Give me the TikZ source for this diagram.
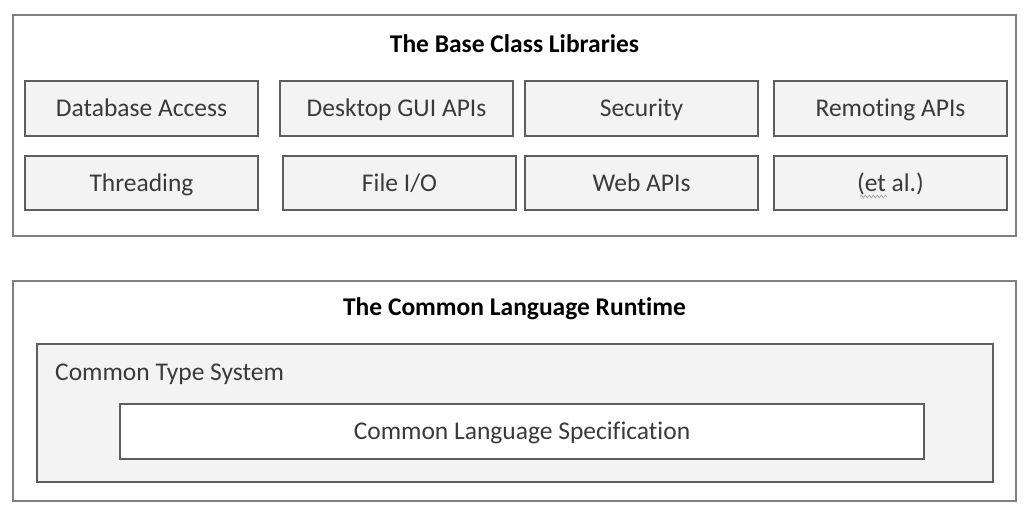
\documentclass[tikz,border=0pt]{standalone}
\usepackage{fontspec}
\setmainfont[Ligatures=NoCommon]{Carlito}
\usetikzlibrary{decorations.pathmorphing}
\definecolor{boxfill}{HTML}{F3F3F3}
\definecolor{boxline}{HTML}{5E5E5E}
\definecolor{outerline}{HTML}{808080}
\definecolor{txt}{HTML}{3A3A3A}
\begin{document}
\begin{tikzpicture}[x=1pt,y=-1pt,
  lib/.style={draw=boxline, line width=1.3pt, fill=boxfill, minimum width=233pt, minimum height=55pt, inner sep=0pt, text=txt, font=\fontsize{25.5}{30}\selectfont, text height=16pt, text depth=0pt},
  outer/.style={draw=outerline, line width=1.3pt, fill=white, inner sep=0pt},
  title/.style={font=\fontsize{25.5}{30}\selectfont\bfseries, text=black, inner sep=0pt, text height=16pt, text depth=0pt},
  plain/.style={font=\fontsize{25.5}{30}\selectfont, text=txt, inner sep=0pt, text height=16pt, text depth=0pt}]
\useasboundingbox (0,0) rectangle (1028,512);
\fill[white] (0,0) rectangle (1028,512);
% top outer box
\node[outer, minimum width=1003pt, minimum height=221pt] (bcl) at (514.5,125.5) {};
\node[title] (bcltitle) at (514.5,44) {The Base Class Libraries};
\node[lib] (db) at (141.5,108.5) {Database Access};
\node[lib] (gui) at (396.5,108.5) {Desktop GUI APIs};
\node[lib] (sec) at (641.5,108.5) {Security};
\node[lib] (rem) at (890.5,108.5) {Remoting APIs};
\node[lib, minimum height=54pt] (thr) at (141.5,183) {Threading};
\node[lib, minimum height=54pt] (fio) at (399.5,183) {File I/O};
\node[lib, minimum height=54pt] (web) at (641.5,183) {Web APIs};
\node[lib, minimum height=54pt] (etal) at (890.5,183) {(et al.)};
\coordinate (sqa) at (860,196.5);
\coordinate (sqb) at (887,196.5);
\draw[gray!70, line width=0.8pt, decorate, decoration={snake, amplitude=1.2pt, segment length=4pt}] (sqa) -- (sqb);
% bottom outer box
\node[outer, minimum width=1003pt, minimum height=220pt] (clr) at (514.5,391) {};
\node[title] (clrtitle) at (514.5,307) {The Common Language Runtime};
\node[draw=boxline, line width=1.3pt, fill=boxfill, minimum width=956pt, minimum height=138pt, inner sep=0pt] (cts) at (515,413) {};
\node[plain, anchor=west] (ctslabel) at (55,372) {Common Type System};
\node[lib, fill=white, minimum width=804pt] (cls) at (522,431.5) {Common Language Specification};
\end{tikzpicture}
\end{document}
